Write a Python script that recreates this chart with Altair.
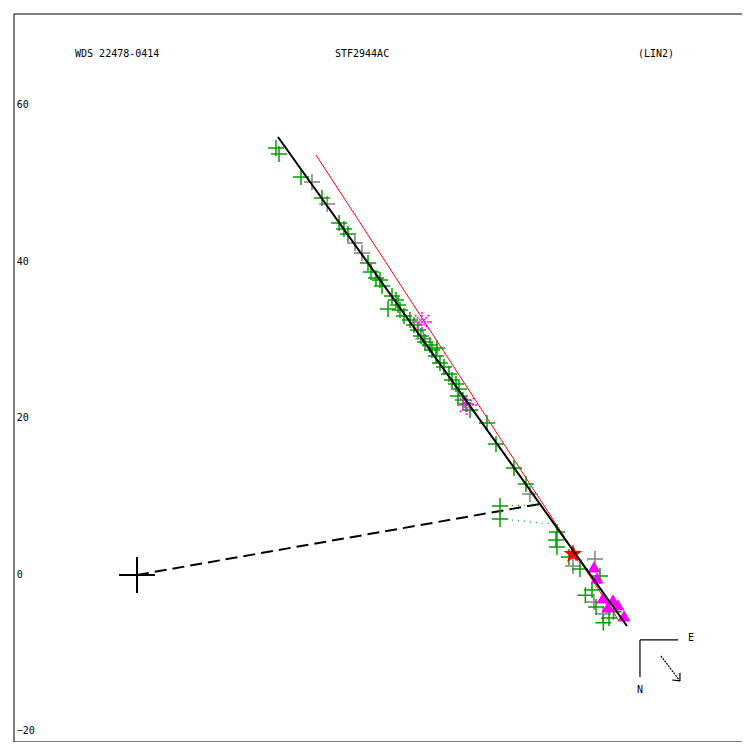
import altair as alt
import pandas as pd

# axis ranges (data units)
XMIN, XMAX = -15.72, 77.32
YMIN, YMAX = -21.35, 71.69

# observations (green crosses)
green_x = [17.76, 18.15, 20.96, 23.64, 25.82, 26.45, 26.96, 29.52, 29.90, 30.54,
           31.05, 31.31, 32.08, 32.59, 33.10, 33.36, 33.61, 34.12, 34.89, 35.40,
           35.91, 36.29, 36.81, 37.44, 37.70, 38.21, 38.34, 38.72, 39.23, 39.87,
           40.26, 40.77, 41.15, 41.02, 41.66, 42.04, 42.56, 44.73, 45.88, 48.18,
           49.71, 46.39, 46.39, 53.67, 53.55, 53.67, 56.61, 59.17, 58.15, 58.66,
           60.32, 55.20, 57.30, 59.60, 60.90]
green_y = [54.57, 53.80, 50.86, 48.18, 44.99, 44.22, 43.58, 39.87, 38.72, 37.96,
           37.70, 36.93, 33.99, 35.66, 35.15, 34.51, 33.87, 33.10, 32.59, 31.95,
           31.31, 30.54, 29.78, 29.39, 28.75, 27.99, 29.01, 27.09, 26.58, 25.69,
           24.92, 24.41, 23.77, 22.88, 22.36, 21.85, 21.09, 19.43, 16.74, 13.67,
           11.63, 8.82, 7.16, 5.50, 4.47, 3.58, 0.77, -0.13, -1.92, -4.09,
           -5.50, 2.30, -2.60, -6.10, -4.70]

# grey crosses
grey_x = [22.36, 27.86, 28.75, 50.22, 55.72, 58.53, 58.40, 59.55, 24.30, 36.60]
grey_y = [50.22, 42.43, 41.15, 10.35, 1.15, 2.04, -3.45, -4.98, 47.40, 30.20]

# magenta filled triangles
tri_x = [58.40, 58.79, 59.55, 60.19, 60.83, 61.47, 62.24]
tri_y = [1.02, -0.38, -2.94, -4.09, -3.19, -3.83, -5.24]

# magenta asterisks
ast_x = [36.42, 42.17]
ast_y = [32.33, 21.73]

# red star
star_x = [55.72]
star_y = [2.68]

# lines: fit (black), red, dashed node line, O-C dotted
fit = [(18.02, 55.97, 62.62, -6.52)]
red = [(22.88, 53.67, 61.60, -5.88)]
node = [(0.0, 0.0, 51.50, 9.07)]
oc = [(46.39, 8.82, 51.50, 8.95), (46.39, 7.16, 52.92, 6.52), (56.0, 1.9, 58.0, 1.9)]

# compass
compass = [(64.28, -8.31, 69.14, -8.31), (64.28, -8.31, 64.28, -13.04)]
arrow = [(66.96, -10.35, 69.39, -13.55)]
arrow_head = [(68.40, -13.43, 69.39, -13.55), (69.39, -12.50, 69.39, -13.55)]
compass_txt = [("E", 70.41, -8.05), ("N", 63.90, -14.70)]

header = [("WDS 22478-0414", -7.92, 66.58), ("STF2944AC", 25.30, 66.58), ("(LIN2)", 64.03, 66.58)]
yticks = [60, 40, 20, 0, -20]

# frame: top, left, bottom (right edge falls outside the window)
frame = [(XMIN, YMAX, XMAX, YMAX), (XMIN, YMAX, XMIN, YMIN), (XMIN, YMIN, XMAX, YMIN)]

xs = alt.Scale(domain=[XMIN, XMAX], nice=False, zero=False)
ys = alt.Scale(domain=[YMIN, YMAX], nice=False, zero=False)


def seg_df(segs):
    return pd.DataFrame(segs, columns=["x", "y", "x2", "y2"])


def seg_layer(segs, **kw):
    return alt.Chart(seg_df(segs)).mark_rule(**kw).encode(
        x=alt.X("x:Q", scale=xs, axis=None),
        y=alt.Y("y:Q", scale=ys, axis=None),
        x2="x2:Q", y2="y2:Q")


def pt_layer(xv, yv, **kw):
    df = pd.DataFrame({"x": xv, "y": yv})
    return alt.Chart(df).mark_point(**kw).encode(
        x=alt.X("x:Q", scale=xs, axis=None),
        y=alt.Y("y:Q", scale=ys, axis=None))


CROSS = "M-1,0L1,0M0,-1L0,1"
ASTER = "M-1,0L1,0M0,-1L0,1M-0.7,-0.7L0.7,0.7M-0.7,0.7L0.7,-0.7"
STAR = ("M0,-1L0.235,-0.324L0.951,-0.309L0.38,0.124L0.588,0.809L0,0.4"
        "L-0.588,0.809L-0.38,0.124L-0.951,-0.309L-0.235,-0.324Z")

layers = [
    seg_layer(frame, color="black", strokeWidth=1),
    seg_layer(red, color="#ff0000", strokeWidth=1),
    seg_layer(node, color="black", strokeWidth=2, strokeDash=[12, 6]),
    seg_layer(oc, color="#00a000", strokeWidth=1.2, strokeDash=[1, 5]),
    pt_layer(grey_x, grey_y, shape=CROSS, size=256, filled=False, color="#808080", strokeWidth=1.5, opacity=1),
    pt_layer(green_x, green_y, shape=CROSS, size=256, filled=False, color="#00a000", strokeWidth=1.5, opacity=1),
    pt_layer(ast_x, ast_y, shape=ASTER, size=400, filled=False, color="#ff00ff", strokeWidth=1.5, strokeDash=[2, 1], opacity=1),
    pt_layer(tri_x, tri_y, shape="triangle-up", size=170, filled=True, color="#ff00ff", opacity=1),
    pt_layer(star_x, star_y, shape=STAR, size=400, filled=True, color="#ff0000", opacity=1),
    seg_layer(fit, color="black", strokeWidth=2),
    pt_layer([0.0], [0.0], shape=CROSS, size=1296, filled=False, color="black", strokeWidth=2, opacity=1),
    seg_layer(compass, color="black", strokeWidth=1.2),
    seg_layer(arrow, color="black", strokeWidth=1.2, strokeDash=[2, 1]),
    seg_layer(arrow_head, color="black", strokeWidth=1.2),
]

txt_df = pd.DataFrame(header + compass_txt, columns=["t", "x", "y"])
layers.append(alt.Chart(txt_df).mark_text(align="left", baseline="middle", font="DejaVu Sans Mono",
                                          fontSize=10, color="black").encode(
    x=alt.X("x:Q", scale=xs, axis=None), y=alt.Y("y:Q", scale=ys, axis=None), text="t:N"))

tick_df = pd.DataFrame({"v": yticks, "x": [XMIN + 0.35] * len(yticks)})
layers.append(alt.Chart(tick_df).mark_text(align="left", baseline="middle", font="DejaVu Sans Mono",
                                           fontSize=10, color="black").encode(
    x=alt.X("x:Q", scale=xs, axis=None), y=alt.Y("v:Q", scale=ys, axis=None), text="v:Q"))

chart = alt.layer(*layers).properties(
    width=728, height=728,
    padding={"left": 6, "top": 6, "right": 0, "bottom": 0},
    autosize=alt.AutoSizeParams(type="none"),
    background="white",
).configure_view(stroke=None)

chart.save("out.html", embed_options={"renderer": "svg", "actions": False})
